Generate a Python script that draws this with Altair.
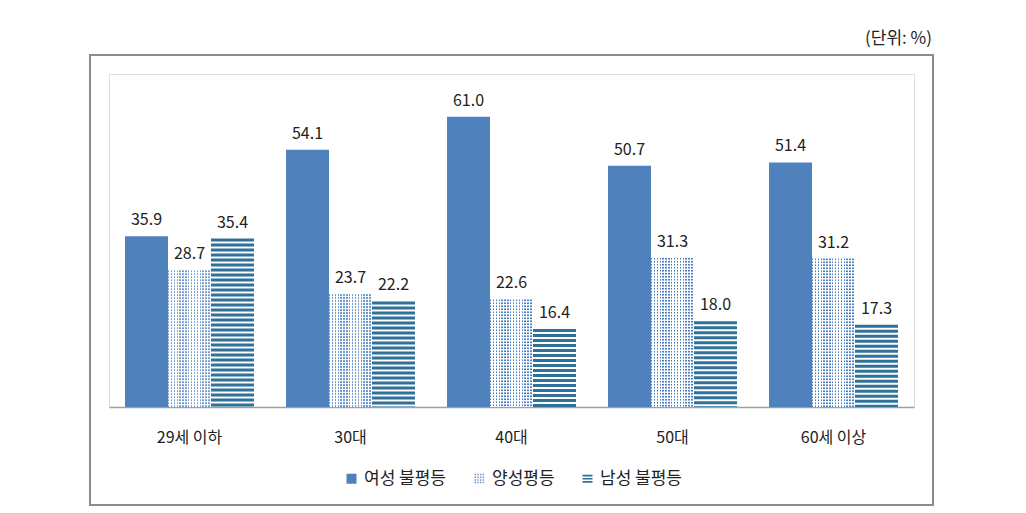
import altair as alt
import pandas as pd

categories = ["29세 이하", "30대", "40대", "50대", "60세 이상"]
series = ["여성 불평등", "양성평등", "남성 불평등"]
women = [35.9, 54.1, 61.0, 50.7, 51.4]
equal = [28.7, 23.7, 22.6, 31.3, 31.2]
men = [35.4, 22.2, 16.4, 18.0, 17.3]

FONT = "Noto Sans CJK KR"
W, H = 805, 333
YMAX = 70
PX = H / YMAX  # pixels per unit

rows = []
for c, a, b, m in zip(categories, women, equal, men):
    rows.append({"cat": c, "ser": series[0], "v": a})
    rows.append({"cat": c, "ser": series[1], "v": b})
    rows.append({"cat": c, "ser": series[2], "v": m})
df = pd.DataFrame(rows)
df["lab"] = df["v"].map(lambda v: f"{v:.1f}")

# horizontal stripes for 남성 불평등 (dark bands, 5px period, 3px thick)
sp, st = 5 / PX, 3 / PX
stripes = []
for c, m in zip(categories, men):
    k = 0
    while m - k * sp > 0:
        top = m - k * sp
        stripes.append({"cat": c, "ser": series[2], "y": max(top - st, 0), "y2": top})
        k += 1
stripes = pd.DataFrame(stripes)

# white row gaps for the dotted 양성평등 bars (3px period)
dp, dw = 3 / PX, 1.6 / PX
gaps = []
for c, b in zip(categories, equal):
    k = 1
    while b - k * dp + dw > 0:
        lo = b - k * dp
        gaps.append({"cat": c, "ser": series[1], "y": max(lo, 0), "y2": lo + dw})
        k += 1
gaps = pd.DataFrame(gaps)

BLUE = "#4F81BD"
DOT = "#4A7FC0"
STRIPE = "#2F7198"
TXT = "#222222"

xenc = alt.X("cat:N", sort=categories, title=None,
             scale=alt.Scale(domain=categories, paddingInner=0.199, paddingOuter=0.0995),
             axis=alt.Axis(labelFont=FONT, labelFontSize=16, labelColor=TXT, labelAngle=0,
                           labelPadding=22, ticks=False, domainColor="#A0A0A0", domainWidth=1.5,
                           grid=False))
xoff = alt.XOffset("ser:N", sort=series, scale=alt.Scale(domain=series, paddingInner=0, paddingOuter=0))
yscale = alt.Scale(domain=[0, YMAX], nice=False)

base = alt.Chart(df)

bars_w = base.transform_filter(alt.datum.ser == series[0]).mark_bar(color=BLUE).encode(
    x=xenc, xOffset=xoff, y=alt.Y("v:Q", scale=yscale, axis=None))

n = 15
stops = []
for i in range(n):
    stops.append(alt.GradientStop(color=DOT, offset=i / n))
    stops.append(alt.GradientStop(color=DOT, offset=(i + 0.5) / n))
    stops.append(alt.GradientStop(color="#ffffff", offset=(i + 0.5) / n))
    stops.append(alt.GradientStop(color="#ffffff", offset=(i + 1) / n))
grad = alt.Gradient(gradient="linear", stops=stops, x1=0, x2=1, y1=0, y2=0)

bars_e = base.transform_filter(alt.datum.ser == series[1]).mark_bar(fill=grad).encode(
    x=xenc, xOffset=xoff, y=alt.Y("v:Q", scale=yscale, axis=None))

gap_layer = alt.Chart(gaps).mark_bar(color="#ffffff", opacity=0.9).encode(
    x=xenc, xOffset=xoff, y=alt.Y("y:Q", scale=yscale, axis=None), y2="y2:Q")

stripe_layer = alt.Chart(stripes).mark_bar(color=STRIPE).encode(
    x=xenc, xOffset=xoff, y=alt.Y("y:Q", scale=yscale, axis=None), y2="y2:Q")

labels = base.mark_text(font=FONT, fontSize=16, color=TXT, baseline="alphabetic", dy=-11).encode(
    x=xenc, xOffset=xoff, y=alt.Y("v:Q", scale=yscale, axis=None), text="lab:N")

frame = base.mark_rect(fill=None, stroke="#8C8C8C", strokeWidth=2).encode(
    x=alt.value(-19), x2=alt.value(824), y=alt.value(-19), y2=alt.value(431))

dots_path = " ".join(
    f"M{x:.2f},{y:.2f}h0.3v0.3h-0.3Z"
    for x in [-1, -0.46, 0.08, 0.62] for y in [-1, -0.46, 0.08, 0.62])
stripe_path = "M-1,-0.8H1V-0.45H-1Z M-1,-0.17H1V0.17H-1Z M-1,0.45H1V0.8H-1Z"

leg = dict(title=None, orient="none", legendX=234, legendY=396,
           direction="horizontal", labelFont=FONT, labelFontSize=17,
           labelColor=TXT, symbolOpacity=1, symbolSize=100,
           columnPadding=24, labelOffset=4, symbolStrokeWidth=0)

legend_pts = base.transform_filter(alt.datum.cat == categories[0]).mark_point(
    filled=True, opacity=0, size=1).encode(
    x=xenc,
    y=alt.Y("v:Q", scale=yscale, axis=None),
    color=alt.Color("ser:N", sort=series,
                    scale=alt.Scale(domain=series, range=[BLUE, "#6E98CC", STRIPE]),
                    legend=alt.Legend(**leg)),
    shape=alt.Shape("ser:N", sort=series,
                    scale=alt.Scale(domain=series, range=["square", dots_path, stripe_path]),
                    legend=alt.Legend(**leg)),
)

chart = alt.layer(frame, bars_w, bars_e, gap_layer, stripe_layer, labels, legend_pts).properties(
    width=W, height=H,
    autosize=alt.AutoSizeParams(type="none"),
    padding={"left": 109, "top": 74, "right": 112, "bottom": 106},
    title=alt.TitleParams("(단위: %)", anchor="end", frame="group", offset=6, dx=18,
                          font=FONT, fontSize=17, fontWeight="normal", color=TXT),
).configure_view(stroke=None).configure(background="white")

chart.save("out.html", embed_options={"renderer": "svg", "actions": False})
